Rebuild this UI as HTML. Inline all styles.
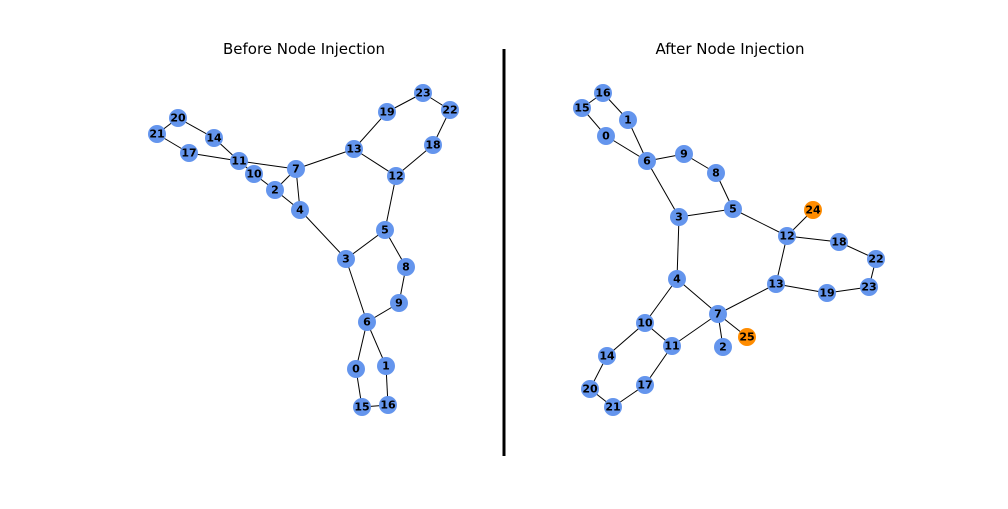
<!DOCTYPE html>
<html><head><style>html,body{margin:0;padding:0;background:#fff}</style></head><body>
<svg width="1008" height="504" xmlns="http://www.w3.org/2000/svg" font-family="DejaVu Sans, sans-serif">
<rect width="1008" height="504" fill="#fff"/>
<text x="304" y="54" font-size="15" text-anchor="middle">Before Node Injection</text>
<text x="730" y="54" font-size="15" text-anchor="middle">After Node Injection</text>
<line x1="504" y1="49" x2="504" y2="456" stroke="#000" stroke-width="3"/>
<g stroke="#000" stroke-width="1">
<line x1="178" y1="118" x2="157" y2="134"/><line x1="178" y1="118" x2="214" y2="138"/>
<line x1="214" y1="138" x2="239" y2="161"/><line x1="157" y1="134" x2="189" y2="153"/>
<line x1="189" y1="153" x2="239" y2="161"/><line x1="239" y1="161" x2="254" y2="174"/>
<line x1="239" y1="161" x2="296" y2="169"/><line x1="254" y1="174" x2="275" y2="190"/>
<line x1="275" y1="190" x2="296" y2="169"/><line x1="296" y1="169" x2="300" y2="210"/>
<line x1="275" y1="190" x2="300" y2="210"/><line x1="296" y1="169" x2="354" y2="149"/>
<line x1="354" y1="149" x2="387" y2="112"/><line x1="387" y1="112" x2="423" y2="93"/>
<line x1="423" y1="93" x2="450" y2="110"/><line x1="450" y1="110" x2="433" y2="145"/>
<line x1="433" y1="145" x2="396" y2="176"/><line x1="354" y1="149" x2="396" y2="176"/>
<line x1="396" y1="176" x2="385" y2="230"/><line x1="385" y1="230" x2="346" y2="259"/>
<line x1="300" y1="210" x2="346" y2="259"/><line x1="385" y1="230" x2="406" y2="267"/>
<line x1="406" y1="267" x2="399" y2="303"/><line x1="399" y1="303" x2="367" y2="322"/>
<line x1="346" y1="259" x2="367" y2="322"/><line x1="367" y1="322" x2="356" y2="369"/>
<line x1="367" y1="322" x2="386" y2="366"/><line x1="356" y1="369" x2="362" y2="407"/>
<line x1="362" y1="407" x2="388" y2="405"/><line x1="386" y1="366" x2="388" y2="405"/>
<line x1="603" y1="93" x2="582" y2="108"/><line x1="603" y1="93" x2="628" y2="120"/>
<line x1="582" y1="108" x2="606" y2="136"/><line x1="628" y1="120" x2="647" y2="161"/>
<line x1="606" y1="136" x2="647" y2="161"/><line x1="647" y1="161" x2="684" y2="154"/>
<line x1="684" y1="154" x2="716" y2="173"/><line x1="716" y1="173" x2="733" y2="209"/>
<line x1="647" y1="161" x2="679" y2="217"/><line x1="679" y1="217" x2="733" y2="209"/>
<line x1="733" y1="209" x2="787" y2="236"/><line x1="787" y1="236" x2="813" y2="210"/>
<line x1="787" y1="236" x2="839" y2="242"/><line x1="839" y1="242" x2="876" y2="259"/>
<line x1="876" y1="259" x2="869" y2="287"/><line x1="869" y1="287" x2="827" y2="293"/>
<line x1="827" y1="293" x2="776" y2="284"/><line x1="776" y1="284" x2="787" y2="236"/>
<line x1="776" y1="284" x2="718" y2="314"/><line x1="679" y1="217" x2="677" y2="279"/>
<line x1="677" y1="279" x2="645" y2="323"/><line x1="677" y1="279" x2="718" y2="314"/>
<line x1="718" y1="314" x2="672" y2="346"/><line x1="718" y1="314" x2="747" y2="337"/>
<line x1="718" y1="314" x2="723" y2="347"/><line x1="645" y1="323" x2="672" y2="346"/>
<line x1="645" y1="323" x2="607" y2="356"/><line x1="607" y1="356" x2="590" y2="389"/>
<line x1="590" y1="389" x2="613" y2="407"/><line x1="613" y1="407" x2="645" y2="385"/>
<line x1="645" y1="385" x2="672" y2="346"/>
</g>
<g fill="#6495ED">
<circle cx="178" cy="118" r="9"/><circle cx="157" cy="134" r="9"/><circle cx="214" cy="138" r="9"/>
<circle cx="189" cy="153" r="9"/><circle cx="239" cy="161" r="9"/><circle cx="254" cy="174" r="9"/>
<circle cx="275" cy="190" r="9"/><circle cx="296" cy="169" r="9"/><circle cx="300" cy="210" r="9"/>
<circle cx="354" cy="149" r="9"/><circle cx="387" cy="112" r="9"/><circle cx="423" cy="93" r="9"/>
<circle cx="450" cy="110" r="9"/><circle cx="433" cy="145" r="9"/><circle cx="396" cy="176" r="9"/>
<circle cx="385" cy="230" r="9"/><circle cx="346" cy="259" r="9"/><circle cx="406" cy="267" r="9"/>
<circle cx="399" cy="303" r="9"/><circle cx="367" cy="322" r="9"/><circle cx="356" cy="369" r="9"/>
<circle cx="386" cy="366" r="9"/><circle cx="362" cy="407" r="9"/><circle cx="388" cy="405" r="9"/>
<circle cx="603" cy="93" r="9"/><circle cx="582" cy="108" r="9"/><circle cx="628" cy="120" r="9"/>
<circle cx="606" cy="136" r="9"/><circle cx="647" cy="161" r="9"/><circle cx="684" cy="154" r="9"/>
<circle cx="716" cy="173" r="9"/><circle cx="733" cy="209" r="9"/><circle cx="679" cy="217" r="9"/>
<circle cx="787" cy="236" r="9"/><circle cx="839" cy="242" r="9"/><circle cx="876" cy="259" r="9"/>
<circle cx="869" cy="287" r="9"/><circle cx="827" cy="293" r="9"/><circle cx="776" cy="284" r="9"/>
<circle cx="677" cy="279" r="9"/><circle cx="718" cy="314" r="9"/><circle cx="723" cy="347" r="9"/>
<circle cx="645" cy="323" r="9"/><circle cx="672" cy="346" r="9"/><circle cx="607" cy="356" r="9"/>
<circle cx="645" cy="385" r="9"/><circle cx="590" cy="389" r="9"/><circle cx="613" cy="407" r="9"/>
</g>
<g fill="#FF8C00"><circle cx="813" cy="210" r="9"/><circle cx="747" cy="337" r="9"/></g>
<g font-size="11" font-weight="bold" text-anchor="middle" dominant-baseline="central">
<text x="178" y="118">20</text><text x="157" y="134">21</text><text x="214" y="138">14</text>
<text x="189" y="153">17</text><text x="239" y="161">11</text><text x="254" y="174">10</text>
<text x="275" y="190">2</text><text x="296" y="169">7</text><text x="300" y="210">4</text>
<text x="354" y="149">13</text><text x="387" y="112">19</text><text x="423" y="93">23</text>
<text x="450" y="110">22</text><text x="433" y="145">18</text><text x="396" y="176">12</text>
<text x="385" y="230">5</text><text x="346" y="259">3</text><text x="406" y="267">8</text>
<text x="399" y="303">9</text><text x="367" y="322">6</text><text x="356" y="369">0</text>
<text x="386" y="366">1</text><text x="362" y="407">15</text><text x="388" y="405">16</text>
<text x="603" y="93">16</text><text x="582" y="108">15</text><text x="628" y="120">1</text>
<text x="606" y="136">0</text><text x="647" y="161">6</text><text x="684" y="154">9</text>
<text x="716" y="173">8</text><text x="733" y="209">5</text><text x="679" y="217">3</text>
<text x="813" y="210">24</text><text x="787" y="236">12</text><text x="839" y="242">18</text>
<text x="876" y="259">22</text><text x="869" y="287">23</text><text x="827" y="293">19</text>
<text x="776" y="284">13</text><text x="677" y="279">4</text><text x="718" y="314">7</text>
<text x="747" y="337">25</text><text x="723" y="347">2</text><text x="645" y="323">10</text>
<text x="672" y="346">11</text><text x="607" y="356">14</text><text x="645" y="385">17</text>
<text x="590" y="389">20</text><text x="613" y="407">21</text>
</g>
</svg>
</body></html>
